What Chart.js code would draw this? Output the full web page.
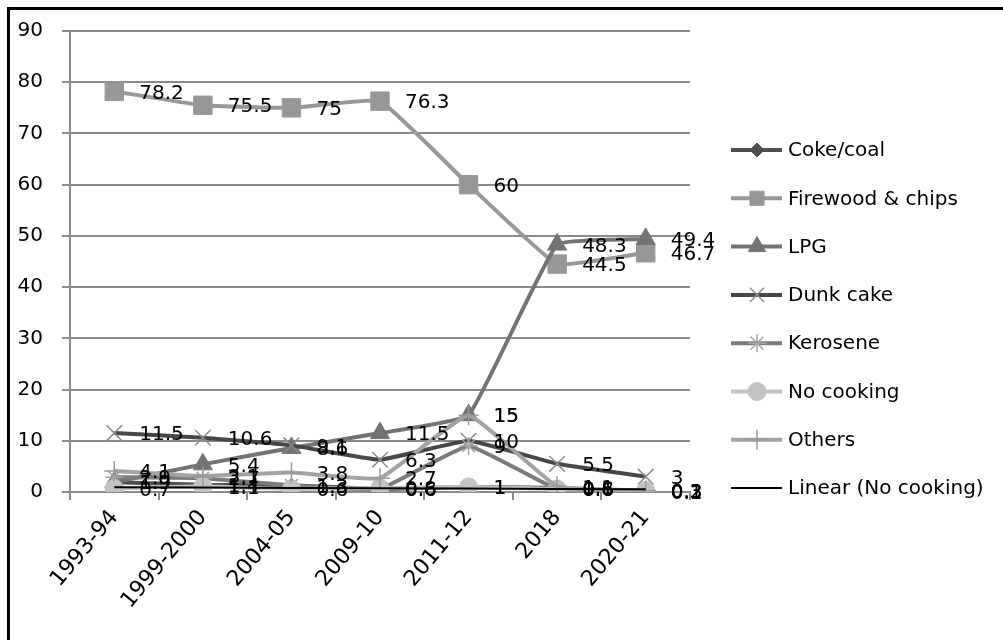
<!DOCTYPE html>
<html>
<head>
<meta charset="utf-8">
<script src="https://cdn.jsdelivr.net/npm/chart.js@4/dist/chart.umd.min.js"></script>
<style>
html,body{margin:0;padding:0;background:#ffffff;}
#wrap{width:1003px;height:640px;position:relative;}
canvas{display:block;}
</style>
</head>
<body>
<div id="wrap"><canvas id="c" width="1003" height="640"></canvas></div>
<script>
// ---- data ----
const categories = ['1993-94', '1999-2000', '2004-05', '2009-10', '2011-12', '2018', '2020-21'];
const cokeCoal   = [1.9, 1.4, 1.3, 0.6, 1, 0.8, 0.1];
const firewood   = [78.2, 75.5, 75, 76.3, 60, 44.5, 46.7];
const lpg        = [1.9, 5.4, 8.6, 11.5, 15, 48.3, 49.4];
const dunkCake   = [11.5, 10.6, 9.1, 6.3, 10, 5.5, 3];
const kerosene   = [2.9, 2.7, 1.3, 0.6, 9, 0.6, 0.2];
const noCooking  = [0.7, 1.1, 0.6, 0.8, 1, 0.6, 0.3];
const others     = [4.1, 3.1, 3.8, 2.7, 15, 1.1, 0.3];
const seriesNames = ['Coke/coal', 'Firewood & chips', 'LPG', 'Dunk cake', 'Kerosene', 'No cooking', 'Others', 'Linear (No cooking)'];
const yTicks = [0, 10, 20, 30, 40, 50, 60, 70, 80, 90];

// linear trendline of "No cooking" (least squares over category index)
const trendNoCooking = (function () {
  const n = noCooking.length;
  let sx = 0, sy = 0, sxy = 0, sxx = 0;
  noCooking.forEach((v, i) => { const x = i + 1; sx += x; sy += v; sxy += x * v; sxx += x * x; });
  const b = (n * sxy - sx * sy) / (n * sxx - sx * sx);
  const a = (sy - b * sx) / n;
  return noCooking.map((v, i) => a + b * (i + 1));
})();

const FONT = "'DejaVu Sans', Verdana, sans-serif";

function mk(idx, data, line, style, radius, fill, stroke, bw) {
  return {
    label: seriesNames[idx],
    data: data,
    borderColor: line,
    backgroundColor: fill,
    borderWidth: 4,
    tension: 0.1,
    pointStyle: style,
    pointRadius: radius,
    pointHoverRadius: radius,
    pointBackgroundColor: fill,
    pointBorderColor: stroke,
    pointBorderWidth: bw,
    order: 20 - idx,
    _labels: true
  };
}

const datasets = [
  mk(0, cokeCoal, '#4f4f4f', 'rectRot', 7, '#4f4f4f', '#4f4f4f', 1),
  mk(1, firewood, '#979797', 'rect', 13, '#979797', '#979797', 1),
  mk(2, lpg, '#737373', 'triangle', 11, '#737373', '#737373', 1),
  mk(3, dunkCake, '#474747', 'crossRot', 11, '#8c8c8c', '#8c8c8c', 1.5),
  mk(4, kerosene, '#7b7b7b', 'star', 9, '#a3a3a3', '#a3a3a3', 1.5),
  mk(5, noCooking, '#c2c2c2', 'circle', 9, '#c2c2c2', '#c2c2c2', 1),
  mk(6, others, '#a3a3a3', 'cross', 10, '#9a9a9a', '#9a9a9a', 1.5),
  {
    label: seriesNames[7],
    data: trendNoCooking,
    borderColor: '#000000',
    borderWidth: 2,
    pointRadius: 0,
    pointHoverRadius: 0,
    tension: 0,
    order: 1,
    _labels: false
  }
];

function drawMarker(ctx, style, x, y, r, fill, stroke, bw) {
  ctx.save();
  ctx.fillStyle = fill; ctx.strokeStyle = stroke; ctx.lineWidth = bw;
  ctx.beginPath();
  const s2 = Math.SQRT1_2;
  switch (style) {
    case 'rect': { const s = r * s2; ctx.rect(x - s, y - s, 2 * s, 2 * s); ctx.fill(); ctx.stroke(); break; }
    case 'rectRot': ctx.moveTo(x, y - r); ctx.lineTo(x + r, y); ctx.lineTo(x, y + r); ctx.lineTo(x - r, y); ctx.closePath(); ctx.fill(); ctx.stroke(); break;
    case 'triangle': ctx.moveTo(x, y - r); ctx.lineTo(x + 0.866 * r, y + 0.5 * r); ctx.lineTo(x - 0.866 * r, y + 0.5 * r); ctx.closePath(); ctx.fill(); ctx.stroke(); break;
    case 'circle': ctx.arc(x, y, r, 0, Math.PI * 2); ctx.fill(); ctx.stroke(); break;
    case 'crossRot': ctx.moveTo(x - r * s2, y - r * s2); ctx.lineTo(x + r * s2, y + r * s2); ctx.moveTo(x + r * s2, y - r * s2); ctx.lineTo(x - r * s2, y + r * s2); ctx.stroke(); break;
    case 'cross': ctx.moveTo(x, y - r); ctx.lineTo(x, y + r); ctx.moveTo(x - r, y); ctx.lineTo(x + r, y); ctx.stroke(); break;
    case 'star': ctx.moveTo(x, y - r); ctx.lineTo(x, y + r); ctx.moveTo(x - r, y); ctx.lineTo(x + r, y);
      ctx.moveTo(x - r * s2, y - r * s2); ctx.lineTo(x + r * s2, y + r * s2); ctx.moveTo(x + r * s2, y - r * s2); ctx.lineTo(x - r * s2, y + r * s2); ctx.stroke(); break;
  }
  ctx.restore();
}

const decorPlugin = {
  id: 'decor',
  afterDatasetsDraw(chart) {
    const ctx = chart.ctx;
    // data labels
    ctx.save();
    ctx.font = '20px ' + FONT;
    ctx.fillStyle = '#000000';
    ctx.textAlign = 'left';
    ctx.textBaseline = 'middle';
    chart.data.datasets.forEach((d, i) => {
      if (!d._labels) return;
      const meta = chart.getDatasetMeta(i);
      meta.data.forEach((pt, j) => {
        ctx.fillText(String(d.data[j]), pt.x + 25, pt.y + 2);
      });
    });
    ctx.restore();
  },
  afterDraw(chart) {
    const ctx = chart.ctx;
    // legend
    ctx.save();
    const x0 = 731, x1 = 782, xm = 757, tx = 788;
    ctx.font = '20px ' + FONT;
    ctx.textAlign = 'left';
    ctx.textBaseline = 'middle';
    chart.data.datasets.forEach((d, i) => {
      const y = 150 + i * 48.3;
      ctx.strokeStyle = d.borderColor;
      ctx.lineWidth = d.borderWidth;
      ctx.beginPath(); ctx.moveTo(x0, y); ctx.lineTo(x1, y); ctx.stroke();
      if (d.pointRadius > 0) {
        drawMarker(ctx, d.pointStyle, xm, y, Math.min(d.pointRadius, 10), d.pointBackgroundColor, d.pointBorderColor, d.pointBorderWidth);
      }
      ctx.fillStyle = '#000000';
      ctx.fillText(d.label, tx, y + 1);
    });
    // outer border
    ctx.strokeStyle = '#000000';
    ctx.lineWidth = 3;
    ctx.strokeRect(8.5, 8.5, 1010, 650);
    ctx.restore();
  }
};

new Chart(document.getElementById('c'), {
  type: 'line',
  data: { labels: categories, datasets: datasets },
  options: {
    responsive: false,
    devicePixelRatio: 1,
    animation: false,
    layout: { padding: { left: 0, top: 30, right: 313, bottom: 0 } },
    plugins: { legend: { display: false }, tooltip: { enabled: false } },
    scales: {
      x: {
        offset: true,
        grid: { display: true, offset: true, drawOnChartArea: false, drawTicks: true, tickLength: 8, color: '#8a8a8a', lineWidth: 2 },
        border: { display: true, color: '#8a8a8a', width: 2 },
        ticks: { font: { family: FONT, size: 22 }, color: '#000000', minRotation: 50, maxRotation: 50, padding: 5, autoSkip: false },
        afterFit(scale) { scale.height = 148; }
      },
      y: {
        min: 0, max: 90,
        afterBuildTicks(scale) { scale.ticks = yTicks.map(v => ({ value: v })); },
        grid: { color: '#8a8a8a', lineWidth: 2, tickLength: 8, drawTicks: true },
        border: { display: true, color: '#8a8a8a', width: 2 },
        ticks: { font: { family: FONT, size: 20 }, color: '#000000', padding: 19 },
        afterFit(scale) { scale.width = 70; }
      }
    }
  },
  plugins: [decorPlugin]
});
</script>
</body>
</html>
